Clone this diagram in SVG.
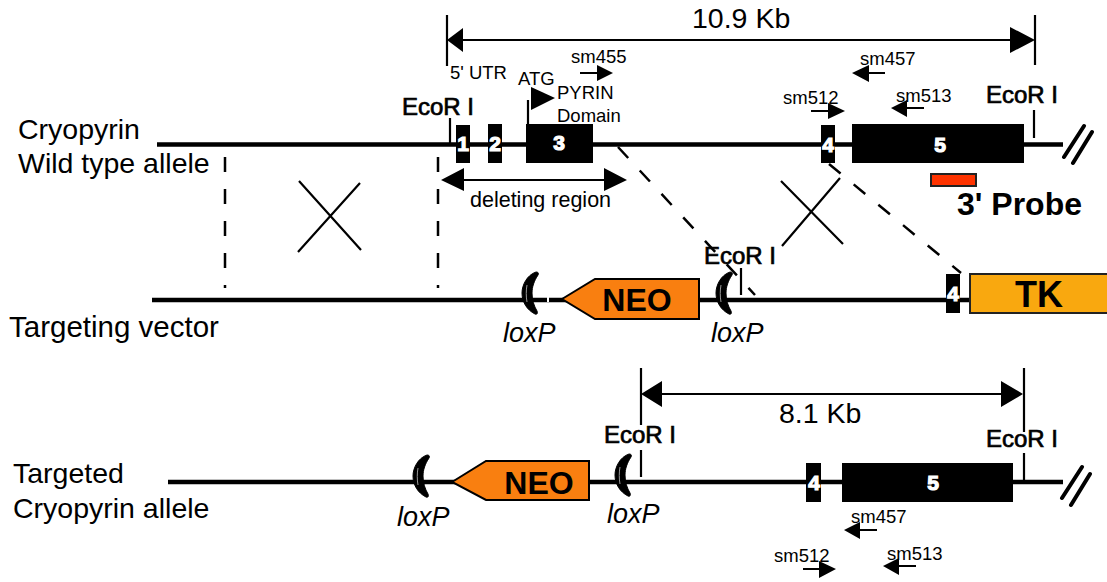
<svg xmlns="http://www.w3.org/2000/svg" width="1107" height="582" viewBox="0 0 1107 582">
<style>
text{font-family:"Liberation Sans",Arial,sans-serif;fill:#000}
.t{font-size:28.5px}.s{font-size:18.5px}.e{font-size:24px;stroke:#000;stroke-width:.7}
.l{font-size:27px;font-style:italic}.n{font-size:21px;font-weight:bold;fill:#fff;stroke:#fff;stroke-width:1.2;text-anchor:middle}
.b{font-size:32px;font-weight:bold;text-anchor:middle}
.m{fill:none;stroke:#000;stroke-width:4.5}.th{fill:none;stroke:#000;stroke-width:2.2}
.sl{fill:none;stroke:#000;stroke-width:4;stroke-linecap:round}
.d{fill:none;stroke:#000;stroke-width:2.5;stroke-dasharray:15 17}
.ex{fill:#000}
</style>
<defs>
<g id="crescent"><path d="M6-21C-3-18-8-8-8 0C-8 9-3 17 5 21C7 22 8 20 7 18C4 13 2 7 2 0C2-6 4-12 8-18C9-20 8-21 6-21Z" fill="#000" stroke="#000" stroke-width="1"/><path d="M-3-8C-4-3-4 4-3 9" fill="none" stroke="#999" stroke-width="1"/></g>
</defs>
<rect width="1107" height="582" fill="#fff"/>
<g id="connectors">
<path class="m" d="M157 144.500H1063M152 300H970M168 482H1063"/>
<path class="sl" d="M1064 157L1084 126M1073 163L1092 132M1062 498L1082 467M1071 505L1090 474"/>
<path class="th" d="M447 15V66M1035 15V65M462 40H1012M641 368V425M1024 368V432M656 394H1002"/>
<path d="M447 40L463 28V52ZM1035 40L1010 27V53ZM641 394L662 381V407ZM1023 394L1001 381V407Z"/>
<path class="th" d="M460 180H606"/>
<path d="M441 180L464 168V191ZM627 180L604 168V191Z"/>
<path class="th" d="M450 118V144M528 100V124M1034 110V138M741 268V295M641 450V477M1024 453V482"/>
<path d="M531 87L555 98L531 110Z"/>
<path class="d" d="M225 157V288M438 157V288M618 147L755 295M829 164L961 273"/>
<path class="th" d="M299 181L361 250M360 183L298 252M781 181L843 244M840 178L782 246"/>
<path class="th" d="M580 73H600M811 111H832M868 73H885M905 108H924M860 530H877M803 569H822M893 566H916"/>
<path d="M613 73L597 65V81ZM845 111L828 103V119ZM852 73L869 65V82ZM891 108L907 100V117ZM844 530L860 522V539ZM836 569L819 561V578ZM883 566L899 558V575Z"/>
<rect x="547" y="297" width="2" height="5" fill="#fff"/>
</g>
<g id="wt-exon1"><rect class="ex" x="456" y="125" width="14" height="38"/><text class="n" x="463" y="151">1</text></g>
<g id="wt-exon2"><rect class="ex" x="488" y="124" width="14" height="39"/><text class="n" x="495" y="151">2</text></g>
<g id="wt-exon3"><rect class="ex" x="526" y="124" width="67" height="39"/><text class="n" x="559" y="150">3</text></g>
<g id="wt-exon4"><rect class="ex" x="821" y="125" width="14" height="38"/><text class="n" x="828" y="152">4</text></g>
<g id="wt-exon5"><rect class="ex" x="852" y="124" width="172" height="39"/><text class="n" x="940" y="152">5</text></g>
<g id="probe"><rect x="931" y="174" width="45" height="12" fill="#ff3300" stroke="#222" stroke-width="2"/><text x="957" y="215" font-weight="bold" style="font-size:32px">3' Probe</text></g>
<g id="neo1"><path d="M562 299L595 279H699V319H595Z" fill="#f97f10" stroke="#000" stroke-width="2"/><text class="b" x="637" y="311">NEO</text></g>
<g id="tk"><rect x="970" y="274" width="140" height="39" fill="#f9a80f" stroke="#222" stroke-width="2"/><text class="b" x="1039" y="307" style="font-size:36px">TK</text></g>
<g id="tv-exon4"><rect class="ex" x="946" y="274" width="14" height="39"/><text class="n" x="953" y="301">4</text></g>
<g id="lox1"><use href="#crescent" x="530" y="293"/></g>
<g id="lox2"><use href="#crescent" x="724" y="293"/></g>
<g id="neo2"><path d="M452 482L486 461H589V500H486Z" fill="#f97f10" stroke="#000" stroke-width="2"/><text class="b" x="539" y="494">NEO</text></g>
<g id="lox3"><use href="#crescent" x="421" y="476"/></g>
<g id="lox4"><use href="#crescent" x="623" y="475"/></g>
<g id="t-exon4"><rect class="ex" x="806" y="463" width="15" height="39"/><text class="n" x="814" y="490">4</text></g>
<g id="t-exon5"><rect class="ex" x="842" y="463" width="171" height="39"/><text class="n" x="933" y="490">5</text></g>
<g id="labels">
<text class="t" x="18" y="139">Cryopyrin</text>
<text class="t" x="18" y="173">Wild type allele</text>
<text class="t" x="9" y="337" style="font-size:29.500px">Targeting vector</text>
<text class="t" x="13" y="483">Targeted</text>
<text class="t" x="13" y="518">Cryopyrin allele</text>
<text class="t" x="692" y="28">10.9 Kb</text>
<text class="t" x="779" y="423">8.1 Kb</text>
<text class="s" x="450" y="79">5' UTR</text>
<text class="s" x="518" y="85">ATG</text>
<text class="s" x="557" y="99">PYRIN</text>
<text class="s" x="557" y="122">Domain</text>
<text class="s" x="571" y="63">sm455</text>
<text class="s" x="860" y="65">sm457</text>
<text class="s" x="783" y="104">sm512</text>
<text class="s" x="896" y="102">sm513</text>
<text class="s" x="851" y="523">sm457</text>
<text class="s" x="774" y="562">sm512</text>
<text class="s" x="887" y="560">sm513</text>
<text x="470" y="207" style="font-size:21.500px">deleting region</text>
<text class="e" x="402" y="115">EcoR I</text>
<text class="e" x="986" y="103">EcoR I</text>
<text class="e" x="704" y="264">EcoR I</text>
<text class="e" x="604" y="443">EcoR I</text>
<text class="e" x="986" y="447">EcoR I</text>
<text class="l" x="503" y="342">loxP</text>
<text class="l" x="711" y="342">loxP</text>
<text class="l" x="397" y="526">loxP</text>
<text class="l" x="607" y="523">loxP</text>
</g>
</svg>
